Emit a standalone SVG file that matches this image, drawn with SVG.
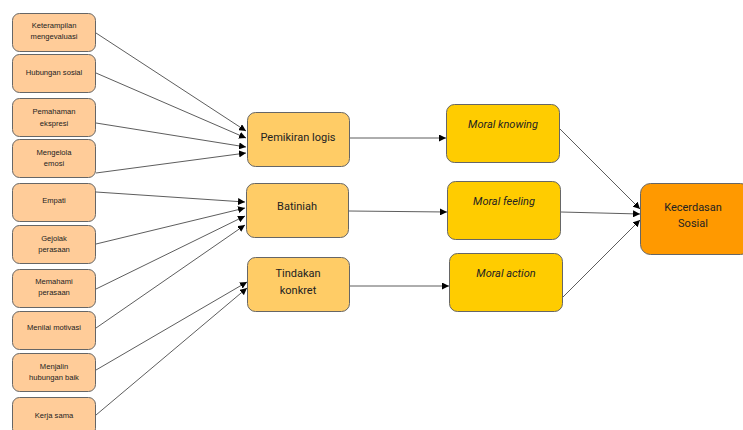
<svg xmlns="http://www.w3.org/2000/svg" width="743" height="430" viewBox="0 0 743 430">
<defs>
<marker id="ah" viewBox="0 0 10 10" refX="10" refY="5" markerWidth="7" markerHeight="7" markerUnits="userSpaceOnUse" orient="auto">
<path d="M0,0 L10,5 L0,10 z" fill="#000"/>
</marker>
</defs>
<style>
.l rect{fill:#FFCC99;stroke:#666;stroke-width:1}
.l text{font-family:"Liberation Sans",Arial,sans-serif;font-size:7.6px;fill:#222;text-anchor:middle}
.m rect{fill:#FFCC66;stroke:#666;stroke-width:1}
.k rect{fill:#FFCC00;stroke:#666;stroke-width:1}
.s rect{fill:#FF9900;stroke:#666;stroke-width:1}
.m text,.s text{font-family:Roboto,"Liberation Sans",sans-serif;font-size:11px;fill:#222;text-anchor:middle}
.k text{font-family:Roboto,"Liberation Sans",sans-serif;font-size:11px;font-style:italic;fill:#222;text-anchor:middle}
#connectors line{stroke:#333;stroke-width:0.8;marker-end:url(#ah)}
</style>
<rect width="743" height="430" fill="#fff"/>
<g id="connectors">
<line x1="96" y1="33" x2="246" y2="131"/>
<line x1="96" y1="73" x2="246" y2="138"/>
<line x1="96" y1="123" x2="246" y2="147"/>
<line x1="96" y1="173" x2="246" y2="153"/>
<line x1="96" y1="192" x2="245" y2="202"/>
<line x1="96" y1="244" x2="245" y2="208"/>
<line x1="96" y1="289" x2="245" y2="216"/>
<line x1="96" y1="328" x2="245" y2="225"/>
<line x1="96" y1="370" x2="247" y2="282"/>
<line x1="96" y1="415" x2="247" y2="288"/>
<line x1="350" y1="138" x2="446" y2="138"/>
<line x1="349" y1="211" x2="447" y2="212"/>
<line x1="350" y1="286" x2="449" y2="286"/>
<line x1="559" y1="128" x2="640" y2="209"/>
<line x1="561" y1="212" x2="640" y2="214"/>
<line x1="563" y1="297" x2="640" y2="220"/>
</g>
<g id="n1" class="l"><rect x="12.5" y="13.5" width="83" height="38" rx="7"/><text x="54" y="28">Keterampilan</text><text x="54" y="39">mengevaluasi</text></g>
<g id="n2" class="l"><rect x="12.5" y="54.5" width="83" height="38" rx="7"/><text x="54" y="75">Hubungan sosial</text></g>
<g id="n3" class="l"><rect x="12.5" y="98.5" width="83" height="38" rx="7"/><text x="54" y="114">Pemahaman</text><text x="54" y="126">ekspresi</text></g>
<g id="n4" class="l"><rect x="12.5" y="139.5" width="83" height="38" rx="7"/><text x="54" y="155">Mengelola</text><text x="54" y="166">emosi</text></g>
<g id="n5" class="l"><rect x="12.5" y="183.5" width="83" height="38" rx="7"/><text x="54" y="203">Empati</text></g>
<g id="n6" class="l"><rect x="12.5" y="225.5" width="83" height="38" rx="7"/><text x="54" y="241">Gejolak</text><text x="54" y="252">perasaan</text></g>
<g id="n7" class="l"><rect x="12.5" y="269.5" width="83" height="38" rx="7"/><text x="54" y="284">Memahami</text><text x="54" y="295">perasaan</text></g>
<g id="n8" class="l"><rect x="12.5" y="311.5" width="83" height="38" rx="7"/><text x="54" y="330">Menilai motivasi</text></g>
<g id="n9" class="l"><rect x="12.5" y="353.5" width="83" height="38" rx="7"/><text x="54" y="369">Menjalin</text><text x="54" y="380">hubungan baik</text></g>
<g id="n10" class="l"><rect x="12.5" y="397.5" width="83" height="38" rx="7"/><text x="54" y="418">Kerja sama</text></g>
<g id="m1" class="m"><rect x="247.5" y="112.5" width="102" height="54" rx="8"/><text x="298" y="141">Pemikiran logis</text></g>
<g id="m2" class="m"><rect x="246.5" y="183.5" width="102" height="54" rx="8"/><text x="297" y="210">Batiniah</text></g>
<g id="m3" class="m"><rect x="247.5" y="257.5" width="102" height="54" rx="8"/><text x="298" y="277">Tindakan</text><text x="298" y="294">konkret</text></g>
<g id="k1" class="k"><rect x="446.5" y="104.5" width="113" height="58" rx="8"/><text x="503" y="128">Moral knowing</text></g>
<g id="k2" class="k"><rect x="447.5" y="181.5" width="113" height="58" rx="8"/><text x="504" y="205">Moral feeling</text></g>
<g id="k3" class="k"><rect x="449.5" y="253.5" width="113" height="58" rx="8"/><text x="506" y="277">Moral action</text></g>
<g id="s1" class="s"><rect x="640.5" y="183.5" width="110" height="71" rx="10"/><text x="693" y="211">Kecerdasan</text><text x="693" y="227">Sosial</text></g>
</svg>
